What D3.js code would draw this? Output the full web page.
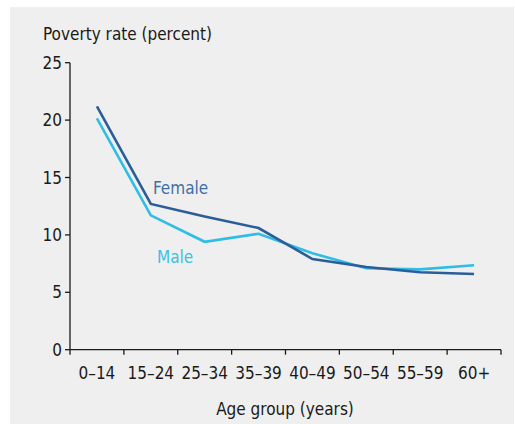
<!DOCTYPE html>
<html><head><meta charset="utf-8">
<script src="https://cdn.jsdelivr.net/npm/d3@7"></script>
<style>
body{margin:0;background:#fff;}
text{font-family:"Liberation Sans Narrow","Arial Narrow","DejaVu Sans Condensed",sans-serif;fill:#1a1a1a;}
</style></head>
<body><svg id="c" width="515" height="424"></svg>
<script>
const categories = ["0–14","15–24","25–34","35–39","40–49","50–54","55–59","60+"];
const female = [21.2, 12.7, 11.6, 10.6, 7.9, 7.2, 6.75, 6.6];
const male   = [20.15, 11.7, 9.4, 10.1, 8.4, 7.1, 7.0, 7.35];
const yTicks = [0,5,10,15,20,25];

const svg = d3.select("#c");
svg.append("rect").attr("x",10).attr("y",7).attr("width",504).attr("height",417).attr("fill","#efefef");

const x = d3.scaleBand().domain(categories).range([70,501]);
const y = d3.scaleLinear().domain([0,25]).range([349.7,62.7]);

const xAxis = svg.append("g").attr("transform","translate(0,349.7)");
xAxis.append("line").attr("x1",70).attr("x2",501).attr("stroke","#1a1a1a").attr("stroke-width",1.3);
const xt = d3.range(categories.length+1).map(i=>70+i*x.bandwidth());
xAxis.selectAll("line.t").data(xt).join("line").attr("class","t")
  .attr("x1",d=>d).attr("x2",d=>d).attr("y1",0).attr("y2",5).attr("stroke","#1a1a1a").attr("stroke-width",1.3);
xAxis.selectAll("text").data(categories).join("text")
  .attr("x",d=>x(d)+x.bandwidth()/2).attr("y",29).attr("text-anchor","middle")
  .attr("font-size",17).text(d=>d);

const yAxis = svg.append("g");
yAxis.append("line").attr("x1",70).attr("x2",70).attr("y1",y(25)).attr("y2",y(0)).attr("stroke","#1a1a1a").attr("stroke-width",1.3);
yAxis.selectAll("line.t").data(yTicks).join("line").attr("class","t")
  .attr("x1",65).attr("x2",70).attr("y1",d=>y(d)).attr("y2",d=>y(d)).attr("stroke","#1a1a1a").attr("stroke-width",1.3);
yAxis.selectAll("text").data(yTicks).join("text")
  .attr("x",62).attr("y",d=>y(d)+6).attr("text-anchor","end").attr("font-size",17).text(d=>d);

svg.append("text").attr("x",43).attr("y",40).attr("font-size",17).text("Poverty rate (percent)");
svg.append("text").attr("x",285).attr("y",415).attr("text-anchor","middle").attr("font-size",17).text("Age group (years)");

const line = d3.line().x((d,i)=>x(categories[i])+x.bandwidth()/2).y(d=>y(d));
svg.append("path").datum(male).attr("d",line).attr("fill","none").attr("stroke","#2ebde6").attr("stroke-width",2.6);
svg.append("path").datum(female).attr("d",line).attr("fill","none").attr("stroke","#2b5d9b").attr("stroke-width",2.6);

svg.append("text").attr("x",153).attr("y",194).attr("font-size",17).style("fill","#3f6fa8").text("Female");
svg.append("text").attr("x",157).attr("y",263).attr("font-size",17).style("fill","#3cc0ea").text("Male");
</script></body></html>
